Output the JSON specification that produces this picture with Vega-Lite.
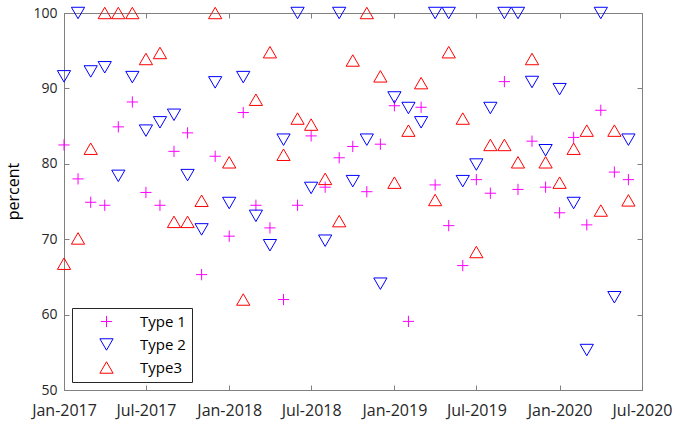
{
  "$schema": "https://vega.github.io/schema/vega-lite/v6.json",
  "width": 578,
  "height": 377,
  "autosize": "none",
  "padding": {"left": 64, "top": 13, "right": 34, "bottom": 34},
  "background": "white",
  "config": {
    "view": {"stroke": "#808080", "strokeWidth": 1},
    "font": "Open Sans",
    "axis": {"grid": false}
  },
  "data": {
    "values": [
      {"date": "2017-01-01", "Type 1": 82.5, "Type 2": 91.6, "Type3": 66.75},
      {"date": "2017-02-01", "Type 1": 78.0, "Type 2": 100, "Type3": 70.1},
      {"date": "2017-03-01", "Type 1": 74.9, "Type 2": 92.25, "Type3": 82.0},
      {"date": "2017-04-01", "Type 1": 74.5, "Type 2": 92.8, "Type3": 100},
      {"date": "2017-05-01", "Type 1": 84.9, "Type 2": 78.4, "Type3": 100},
      {"date": "2017-06-01", "Type 1": 88.2, "Type 2": 91.5, "Type3": 100},
      {"date": "2017-07-01", "Type 1": 76.2, "Type 2": 84.4, "Type3": 93.9},
      {"date": "2017-08-01", "Type 1": 74.5, "Type 2": 85.5, "Type3": 94.7},
      {"date": "2017-09-01", "Type 1": 81.65, "Type 2": 86.5, "Type3": 72.3},
      {"date": "2017-10-01", "Type 1": 84.1, "Type 2": 78.5, "Type3": 72.3},
      {"date": "2017-11-01", "Type 1": 65.3, "Type 2": 71.3, "Type3": 75.1},
      {"date": "2017-12-01", "Type 1": 81.0, "Type 2": 90.8, "Type3": 100},
      {"date": "2018-01-01", "Type 1": 70.4, "Type 2": 74.8, "Type3": 80.2},
      {"date": "2018-02-01", "Type 1": 86.8, "Type 2": 91.5, "Type3": 62.0},
      {"date": "2018-03-01", "Type 1": 74.5, "Type 2": 73.1, "Type3": 88.5},
      {"date": "2018-04-01", "Type 1": 71.5, "Type 2": 69.2, "Type3": 94.8},
      {"date": "2018-05-01", "Type 1": 62.0, "Type 2": 83.2, "Type3": 81.2},
      {"date": "2018-06-01", "Type 1": 74.5, "Type 2": 100, "Type3": 86.0},
      {"date": "2018-07-01", "Type 1": 83.7, "Type 2": 76.8, "Type3": 85.2},
      {"date": "2018-08-01", "Type 1": 76.9, "Type 2": 69.8, "Type3": 78.0},
      {"date": "2018-09-01", "Type 1": 80.8, "Type 2": 100, "Type3": 72.4},
      {"date": "2018-10-01", "Type 1": 82.3, "Type 2": 77.7, "Type3": 93.7},
      {"date": "2018-11-01", "Type 1": 76.3, "Type 2": 83.2, "Type3": 100},
      {"date": "2018-12-01", "Type 1": 82.6, "Type 2": 64.1, "Type3": 91.6},
      {"date": "2019-01-01", "Type 1": 87.7, "Type 2": 88.8, "Type3": 77.5},
      {"date": "2019-02-01", "Type 1": 59.1, "Type 2": 87.4, "Type3": 84.4},
      {"date": "2019-03-01", "Type 1": 87.5, "Type 2": 85.5, "Type3": 90.7},
      {"date": "2019-04-01", "Type 1": 77.2, "Type 2": 100, "Type3": 75.2},
      {"date": "2019-05-01", "Type 1": 71.8, "Type 2": 100, "Type3": 94.8},
      {"date": "2019-06-01", "Type 1": 66.5, "Type 2": 77.7, "Type3": 86.0},
      {"date": "2019-07-01", "Type 1": 77.9, "Type 2": 79.9, "Type3": 68.3},
      {"date": "2019-08-01", "Type 1": 76.1, "Type 2": 87.4, "Type3": 82.5},
      {"date": "2019-09-01", "Type 1": 90.9, "Type 2": 100, "Type3": 82.5},
      {"date": "2019-10-01", "Type 1": 76.6, "Type 2": 100, "Type3": 80.2},
      {"date": "2019-11-01", "Type 1": 83.0, "Type 2": 90.85, "Type3": 93.9},
      {"date": "2019-12-01", "Type 1": 76.9, "Type 2": 81.8, "Type3": 80.2},
      {"date": "2020-01-01", "Type 1": 73.5, "Type 2": 89.9, "Type3": 77.5},
      {"date": "2020-02-01", "Type 1": 83.5, "Type 2": 74.8, "Type3": 82.0},
      {"date": "2020-03-01", "Type 1": 71.9, "Type 2": 55.3, "Type3": 84.4},
      {"date": "2020-04-01", "Type 1": 87.1, "Type 2": 100, "Type3": 73.8},
      {"date": "2020-05-01", "Type 1": 78.9, "Type 2": 62.3, "Type3": 84.4},
      {"date": "2020-06-01", "Type 1": 77.9, "Type 2": 83.2, "Type3": 75.15}
    ]
  },
  "transform": [{"fold": ["Type 1", "Type 2", "Type3"], "as": ["type", "value"]}],
  "layer": [
    {
      "mark": {"type": "point", "filled": false, "strokeWidth": 1, "size": 175, "opacity": 1},
      "encoding": {
        "x": {
          "field": "date", "type": "temporal",
          "scale": {"type": "utc", "domain": [{"year": 2017, "month": 1, "date": 1, "utc": true}, {"year": 2020, "month": 7, "date": 1, "utc": true}]},
          "axis": {
            "orient": "bottom", "title": null, "format": "%b-%Y",
            "values": [
              {"year": 2017, "month": 1, "date": 1, "utc": true},
              {"year": 2017, "month": 7, "date": 1, "utc": true},
              {"year": 2018, "month": 1, "date": 1, "utc": true},
              {"year": 2018, "month": 7, "date": 1, "utc": true},
              {"year": 2019, "month": 1, "date": 1, "utc": true},
              {"year": 2019, "month": 7, "date": 1, "utc": true},
              {"year": 2020, "month": 1, "date": 1, "utc": true},
              {"year": 2020, "month": 7, "date": 1, "utc": true}
            ],
            "labelFontSize": 16, "labelColor": "#262626", "labelPadding": 17,
            "tickSize": -5, "tickColor": "#808080", "domainColor": "#808080", "labelFlush": false, "labelOverlap": false
          }
        },
        "y": {
          "field": "value", "type": "quantitative",
          "scale": {"domain": [50, 100], "nice": false, "zero": false},
          "axis": {
            "orient": "left", "values": [50, 60, 70, 80, 90, 100],
            "title": "percent", "titleFontSize": 16, "titleFontWeight": "normal", "titleColor": "#000000", "titlePadding": 11, "titleY": 178,
            "labelFontSize": 14, "labelColor": "#262626", "labelPadding": 12,
            "tickSize": -5, "tickColor": "#808080", "domainColor": "#808080"
          }
        },
        "color": {
          "field": "type", "type": "nominal",
          "scale": {"domain": ["Type 1", "Type 2", "Type3"], "range": ["#ff00ff", "#0000ff", "#ff0000"]},
          "legend": {
            "orient": "none", "legendX": 8, "legendY": 295, "title": null,
            "strokeColor": "#262626", "fillColor": "white", "padding": 6,
            "symbolOffset": 21, "labelOffset": 26, "rowPadding": 6,
            "labelFontSize": 15, "labelColor": "#000000", "symbolStrokeWidth": 1, "symbolSize": 175
          }
        },
        "shape": {
          "field": "type", "type": "nominal",
          "scale": {"domain": ["Type 1", "Type 2", "Type3"], "range": ["M-0.85,0H0.85M0,-0.85V0.85", "triangle-down", "triangle-up"]},
          "legend": {
            "orient": "none", "legendX": 8, "legendY": 295, "title": null,
            "strokeColor": "#262626", "fillColor": "white", "padding": 6,
            "symbolOffset": 21, "labelOffset": 26, "rowPadding": 6,
            "labelFontSize": 15, "labelColor": "#000000", "symbolStrokeWidth": 1, "symbolSize": 175
          }
        }
      }
    },
    {
      "mark": {"type": "point", "opacity": 0},
      "encoding": {
        "x": {"field": "date", "type": "temporal",
          "axis": {"orient": "top", "title": null, "labels": false, "tickSize": -5, "tickColor": "#808080", "domainColor": "#808080",
            "values": [
              {"year": 2017, "month": 7, "date": 1, "utc": true},
              {"year": 2018, "month": 1, "date": 1, "utc": true},
              {"year": 2018, "month": 7, "date": 1, "utc": true},
              {"year": 2019, "month": 1, "date": 1, "utc": true},
              {"year": 2019, "month": 7, "date": 1, "utc": true},
              {"year": 2020, "month": 1, "date": 1, "utc": true}
            ]}},
        "y": {"field": "value", "type": "quantitative",
          "axis": {"orient": "right", "title": null, "labels": false, "tickSize": -5, "tickColor": "#808080", "domainColor": "#808080",
            "values": [60, 70, 80, 90]}}
      }
    }
  ],
  "resolve": {"axis": {"x": "independent", "y": "independent"}}
}
